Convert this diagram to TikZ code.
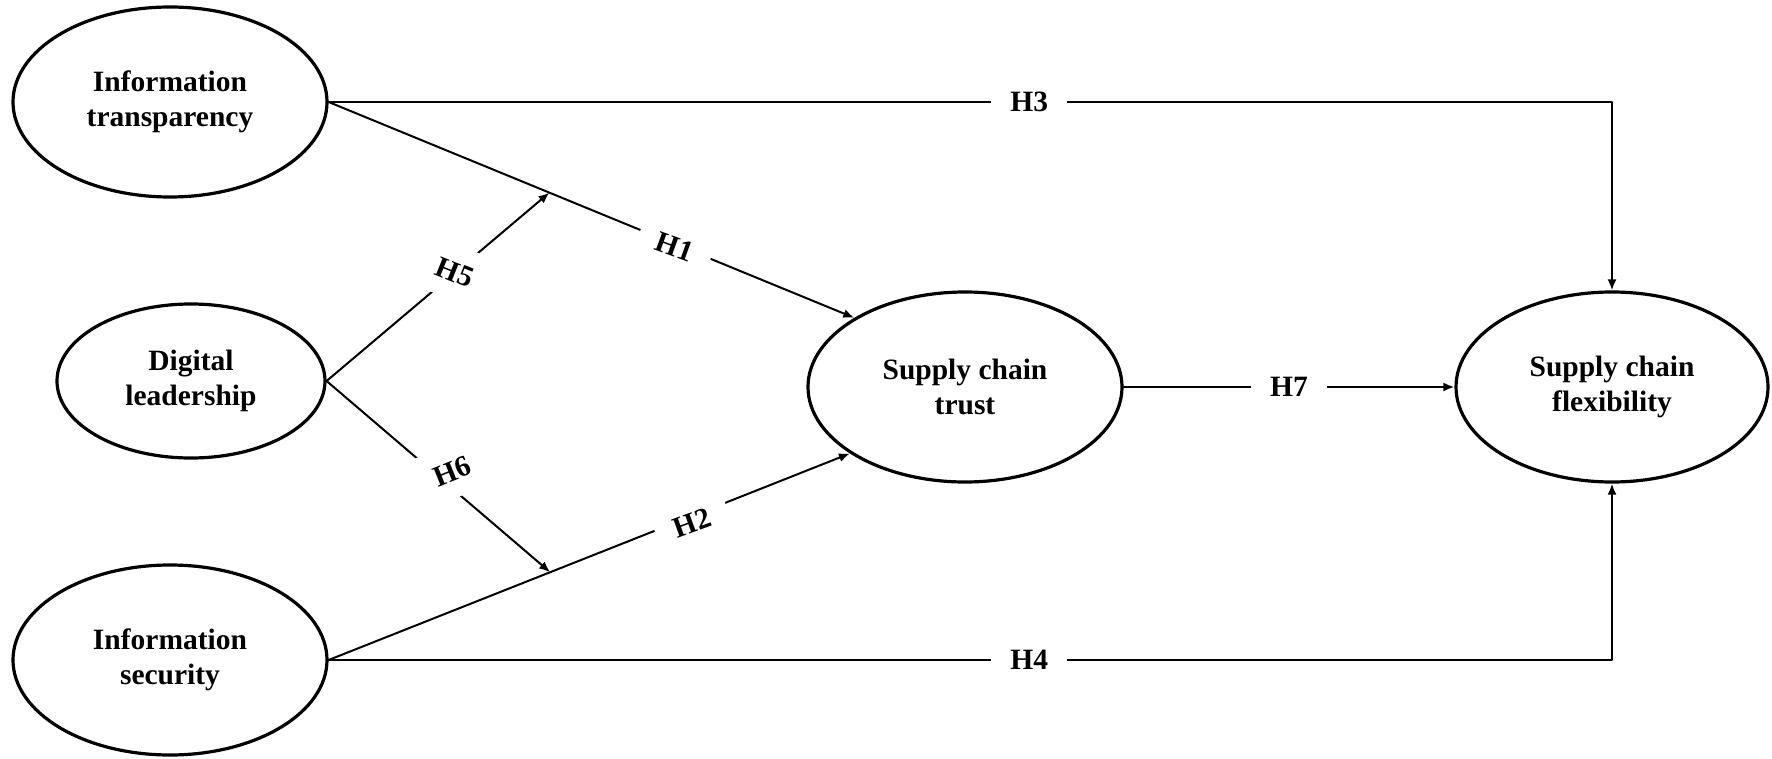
\documentclass[tikz,border=0pt]{standalone}
\usepackage{fontspec}
\setmainfont{Liberation Serif}
\usetikzlibrary{arrows.meta,shapes.geometric}

\begin{document}
\begin{tikzpicture}[x=1pt,y=-1pt,>={Latex[length=11pt,width=9pt]},line cap=round,line join=round]
\useasboundingbox[fill=white] (0,0) rectangle (1772,759);
\tikzset{construct/.style={draw,ellipse,line width=3.2pt,inner sep=0pt,align=center,font=\bfseries\fontsize{29.5}{35}\selectfont},link/.style={->,line width=2pt},hlab/.style={fill=white,inner xsep=19pt,inner ysep=2pt,font=\bfseries\fontsize{29.5}{35}\selectfont}}
\node[construct,minimum width=314pt,minimum height=190pt] (trans) at (170,102) {Information\\transparency};
\node[construct,minimum width=268pt,minimum height=154pt] (lead) at (191,381) {Digital\\leadership};
\node[construct,minimum width=314pt,minimum height=190pt] (secur) at (170,660) {Information\\security};
\node[construct,minimum width=314pt,minimum height=190pt] (trust) at (965,387) {Supply chain\\trust};
\node[construct,minimum width=312pt,minimum height=190pt] (flex) at (1612,387) {Supply chain\\flexibility};
\draw[link] (trans.east) -- coordinate[pos=.42] (m1) node[hlab,pos=.66,rotate=-20,yshift=-3pt] {H1} (trust.148);
\draw[link] (secur.east) -- coordinate[pos=.425] (m2) node[hlab,pos=.693,rotate=20,yshift=-6pt] {H2} (trust.210);
\draw[link] (trans.east) -| node[hlab,pos=.273] {H3} (flex.north);
\draw[link] (secur.east) -| node[hlab,pos=.273] {H4} (flex.south);
\draw[link] (lead.east) -- node[hlab,inner sep=17pt,pos=.576,rotate=-22] {H5} (m1);
\draw[link] (lead.east) -- node[hlab,inner sep=16pt,pos=.54,rotate=22,xshift=9pt,yshift=10pt] {H6} (m2);
\draw[link] (trust.east) -- node[hlab] {H7} (flex.west);
\end{tikzpicture}
\end{document}
